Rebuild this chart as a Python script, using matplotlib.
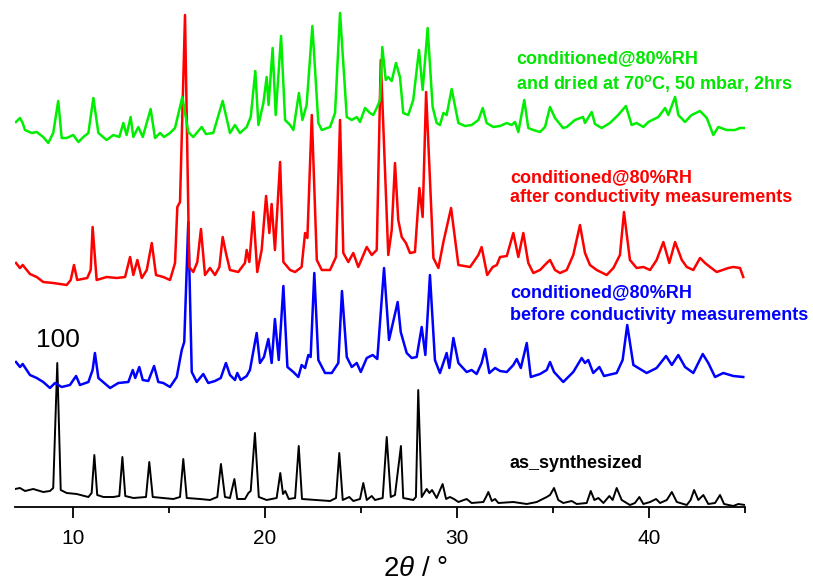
import matplotlib
matplotlib.use("Agg")
import matplotlib.pyplot as plt
from matplotlib.ticker import MultipleLocator

plt.rcParams['font.family'] = ['Liberation Sans', 'DejaVu Sans']
plt.rcParams['mathtext.fontset'] = 'custom'
plt.rcParams['mathtext.rm'] = 'Liberation Sans'
plt.rcParams['mathtext.it'] = 'Liberation Sans:italic'
plt.rcParams['mathtext.bf'] = 'Liberation Sans:bold'

# 2theta (deg) / intensity (offset, arbitrary units)
as_syn_x = [7.00, 7.26, 7.52, 7.95, 8.47, 8.82, 8.99, 9.20, 9.38, 9.69, 10.21, 10.82,
            10.99, 11.13, 11.28, 11.60, 12.12, 12.43, 12.59, 12.74, 13.16, 13.82, 13.99,
            14.17, 14.72, 15.24, 15.59, 15.76, 15.94, 16.63, 17.15, 17.53, 17.72, 17.93,
            18.19, 18.42, 18.57, 18.97, 19.15, 19.27, 19.49, 19.69, 20.10, 20.62, 20.81,
            20.95, 21.07, 21.25, 21.58, 21.77, 21.94, 22.71, 23.40, 23.71, 23.88, 24.06,
            24.40, 24.61, 24.96, 25.13, 25.31, 25.57, 25.74, 26.14, 26.35, 26.56, 26.78,
            27.09, 27.21, 27.73, 27.87, 27.99, 28.17, 28.43, 28.57, 28.71, 28.95, 29.26,
            29.44, 29.64, 29.85, 30.08, 30.51, 30.77, 31.38, 31.52, 31.64, 31.82, 31.99,
            32.16, 32.94, 33.64, 34.16, 34.68, 34.85, 35.06, 35.28, 35.54, 35.98, 36.24,
            36.76, 36.97, 37.16, 37.37, 37.63, 37.94, 38.11, 38.32, 38.58, 39.01, 39.27,
            39.50, 39.71, 40.06, 40.37, 40.58, 40.93, 41.19, 41.45, 41.97, 42.17, 42.35,
            42.57, 42.83, 43.09, 43.44, 43.70, 43.91, 44.39, 44.65, 45.00]
as_syn_y = [18, 19, 16, 18, 15, 16, 19, 144, 17, 14, 13, 10,
            14, 52, 12, 10, 10, 11, 50, 11, 9, 10, 45,
            10, 9, 8, 10, 48, 9, 8, 7, 10, 43, 10,
            9, 28, 8, 8, 14, 16, 74, 10, 7, 9, 34,
            13, 16, 8, 9, 61, 8, 7, 6, 9, 54, 7,
            10, 6, 8, 24, 7, 11, 7, 9, 70, 10, 12,
            61, 9, 7, 10, 117, 10, 18, 14, 17, 9, 23,
            8, 10, 8, 5, 8, 4, 5, 10, 15, 6, 8,
            4, 5, 3, 5, 10, 12, 19, 7, 4, 6, 3,
            4, 16, 7, 9, 4, 11, 7, 19, 7, 2, 4,
            10, 3, 5, 8, 4, 7, 15, 5, 2, 7, 17,
            7, 12, 3, 4, 12, 3, 1, 3, 2]

before_x = [7.05, 7.26, 7.40, 7.78, 8.13, 8.47, 8.82, 9.08, 9.43, 9.86, 10.18, 10.38,
            10.82, 11.04, 11.16, 11.34, 11.77, 11.95, 12.38, 12.90, 13.13, 13.26, 13.47,
            13.65, 13.94, 14.24, 14.46, 14.72, 15.07, 15.42, 15.68, 15.81, 16.02, 16.20,
            16.46, 16.80, 17.06, 17.41, 17.71, 17.98, 18.19, 18.45, 18.57, 18.75, 19.06,
            19.23, 19.58, 19.75, 19.96, 20.19, 20.36, 20.53, 20.73, 20.97, 21.18, 21.49,
            21.75, 21.92, 22.10, 22.27, 22.39, 22.58, 22.79, 23.14, 23.49, 23.83, 24.02,
            24.27, 24.53, 24.79, 25.00, 25.31, 25.62, 25.86, 26.21, 26.47, 26.92, 27.08,
            27.39, 27.65, 27.91, 28.17, 28.36, 28.60, 28.86, 29.12, 29.47, 29.61, 29.82,
            30.08, 30.51, 30.77, 31.03, 31.29, 31.47, 31.69, 31.99, 32.25, 32.60, 32.94,
            33.12, 33.33, 33.64, 33.85, 34.33, 34.68, 34.85, 35.06, 35.54, 36.06, 36.50,
            36.67, 36.84, 37.10, 37.42, 37.66, 38.32, 38.63, 38.87, 39.19, 39.54, 39.88,
            40.40, 40.89, 41.19, 41.53, 41.88, 42.31, 42.80, 43.09, 43.44, 43.87, 44.39,
            44.91]
before_y = [145, 140, 143, 132, 129, 125, 119, 124, 120, 122, 131, 122,
            125, 137, 154, 129, 122, 119, 124, 125, 137, 129, 140,
            127, 126, 141, 125, 124, 120, 130, 157, 165, 285, 135,
            125, 133, 124, 126, 129, 144, 132, 127, 134, 127, 131,
            137, 174, 144, 150, 168, 144, 188, 147, 221, 140, 135,
            130, 142, 139, 152, 150, 234, 147, 134, 134, 144, 216,
            150, 140, 144, 135, 149, 152, 148, 239, 167, 205, 175,
            154, 149, 150, 180, 152, 232, 147, 134, 154, 139, 169,
            144, 135, 137, 133, 144, 158, 134, 139, 136, 135, 142,
            148, 139, 164, 130, 133, 137, 145, 135, 125, 135, 149,
            144, 147, 134, 140, 131, 134, 147, 182, 142, 138, 134,
            139, 151, 142, 152, 140, 134, 153, 144, 130, 134, 131,
            130]

after_x = [7.05, 7.26, 7.40, 7.78, 8.13, 8.47, 8.99, 9.69, 9.90, 10.07, 10.24, 10.76,
           10.94, 11.04, 11.25, 11.77, 12.29, 12.73, 12.99, 13.16, 13.37, 13.60, 13.86,
           14.12, 14.34, 14.72, 15.07, 15.33, 15.45, 15.59, 15.85, 16.07, 16.28, 16.49,
           16.68, 16.89, 17.15, 17.41, 17.64, 17.81, 17.98, 18.19, 18.62, 18.97, 19.06,
           19.20, 19.41, 19.61, 19.84, 20.07, 20.24, 20.36, 20.53, 20.80, 20.97, 21.32,
           21.58, 21.92, 22.10, 22.22, 22.45, 22.71, 22.97, 23.40, 23.71, 23.92, 24.09,
           24.35, 24.61, 24.87, 25.31, 25.57, 25.83, 26.04, 26.43, 26.61, 26.78, 26.95,
           27.13, 27.35, 27.56, 27.82, 28.05, 28.22, 28.40, 28.78, 29.04, 29.30, 29.70,
           30.08, 30.69, 31.12, 31.29, 31.58, 31.87, 32.08, 32.25, 32.60, 32.94, 33.20,
           33.46, 33.72, 33.98, 34.33, 34.68, 34.85, 35.11, 35.37, 35.72, 36.06, 36.41,
           36.67, 36.93, 37.28, 37.80, 38.15, 38.49, 38.70, 39.01, 39.36, 39.71, 40.06,
           40.40, 40.75, 41.06, 41.36, 41.71, 41.97, 42.31, 42.66, 42.92, 43.18, 43.53,
           44.13, 44.39, 44.74, 44.91]
after_y = [244, 239, 242, 233, 230, 225, 224, 222, 227, 242, 227, 229,
           237, 280, 227, 230, 229, 230, 250, 232, 247, 229, 237,
           264, 232, 230, 227, 244, 300, 305, 492, 240, 235, 245,
           278, 232, 239, 232, 240, 270, 254, 237, 235, 244, 257,
           245, 295, 235, 257, 311, 274, 303, 257, 345, 245, 237,
           235, 240, 274, 269, 392, 247, 237, 237, 250, 387, 254,
           245, 254, 240, 260, 252, 257, 447, 252, 277, 344, 287,
           270, 264, 254, 255, 319, 290, 415, 249, 239, 265, 299,
           242, 240, 252, 260, 232, 240, 242, 250, 251, 274, 250,
           274, 244, 234, 237, 244, 247, 237, 234, 237, 252, 282,
           254, 242, 237, 232, 239, 252, 295, 247, 239, 240, 237,
           247, 265, 244, 265, 247, 240, 237, 249, 244, 240, 235,
           239, 240, 239, 230]

dried_x = [7.05, 7.26, 7.40, 7.52, 7.87, 8.13, 8.47, 8.73, 8.99, 9.25, 9.43, 9.69,
           10.03, 10.30, 10.56, 10.82, 11.08, 11.34, 11.77, 12.12, 12.43, 12.64, 12.81,
           13.02, 13.16, 13.42, 13.65, 14.06, 14.29, 14.55, 14.76, 15.07, 15.33, 15.59,
           15.71, 16.02, 16.28, 16.72, 16.94, 17.32, 17.81, 18.19, 18.45, 18.71, 19.06,
           19.27, 19.51, 19.67, 19.93, 20.10, 20.20, 20.41, 20.57, 20.85, 21.06, 21.32,
           21.49, 21.78, 21.96, 22.18, 22.48, 22.79, 22.97, 23.40, 23.66, 23.92, 24.27,
           24.53, 24.79, 24.96, 25.22, 25.48, 25.65, 25.83, 26.00, 26.12, 26.30, 26.43,
           26.61, 26.83, 27.04, 27.21, 27.47, 27.73, 28.03, 28.22, 28.48, 28.74, 28.95,
           29.12, 29.30, 29.47, 29.73, 30.08, 30.43, 30.77, 31.12, 31.35, 31.55, 31.90,
           32.25, 32.60, 32.85, 33.03, 33.20, 33.51, 33.72, 33.98, 34.33, 34.59, 34.85,
           35.11, 35.53, 35.72, 36.15, 36.57, 36.67, 37.02, 37.19, 37.54, 37.97, 38.40,
           38.80, 39.10, 39.36, 39.71, 39.97, 40.49, 40.84, 41.01, 41.36, 41.53, 41.88,
           42.22, 42.66, 43.01, 43.35, 43.61, 44.05, 44.48, 44.74, 45.00]
dried_y = [385, 389, 384, 377, 374, 375, 370, 364, 374, 406, 369, 369,
           372, 365, 370, 374, 409, 374, 367, 372, 370, 384, 372,
           390, 370, 380, 370, 398, 369, 374, 370, 374, 379, 400,
           410, 375, 370, 380, 373, 374, 406, 374, 382, 374, 380,
           390, 436, 382, 404, 430, 402, 459, 392, 471, 387, 382,
           377, 414, 387, 402, 481, 384, 377, 380, 394, 494, 390,
           387, 390, 385, 399, 394, 392, 399, 407, 460, 427, 430,
           426, 444, 430, 394, 392, 407, 457, 417, 479, 400, 384,
           382, 394, 392, 418, 384, 381, 382, 387, 399, 384, 380,
           381, 384, 382, 385, 375, 407, 379, 377, 375, 380, 400,
           389, 379, 380, 387, 390, 384, 395, 383, 379, 384, 392,
           401, 382, 384, 380, 385, 390, 399, 392, 410, 392, 385,
           392, 396, 389, 372, 380, 377, 377, 379, 379]

fig = plt.figure(figsize=(8.13, 5.82), dpi=100)
ax = fig.add_axes([15 / 813, 75 / 582, 730 / 813, 502 / 582])

ax.plot(as_syn_x, as_syn_y, color="black", lw=1.4)
ax.plot(before_x, before_y, color="#0000ff", lw=1.8)
ax.plot(after_x, after_y, color="#ff0000", lw=1.8)
ax.plot(dried_x, dried_y, color="#00ee00", lw=1.8)

ax.set_xlim(7, 45)
ax.set_ylim(0, 502)
for s in ["left", "right", "top"]:
    ax.spines[s].set_visible(False)
ax.spines["bottom"].set_linewidth(1.3)
ax.set_yticks([])
ax.xaxis.set_major_locator(MultipleLocator(10))
ax.xaxis.set_minor_locator(MultipleLocator(5))
ax.tick_params(axis="x", which="major", direction="out", length=8, width=1.3,
               labelsize=15, pad=8)
ax.tick_params(axis="x", which="minor", direction="out", length=4.5, width=1.3)
ax.set_xlabel(r"2$\theta$ / °", fontsize=20)
ax.xaxis.set_label_coords(0.548, -0.098)
ax.patch.set_visible(False)

bold = dict(fontsize=13, fontweight="bold", ha="left", va="center")
ax.text(33.08, 448, "conditioned@80%RH", color="#00e600", **bold)
ax.text(33.08, 424, r"and dried at 70$^{\mathbf{o}}$C, 50 mbar, 2hrs", color="#00e600", **bold)
ax.text(32.77, 329, "conditioned@80%RH", color="#ff0000", **bold)
ax.text(32.77, 309, "after conductivity measurements", color="#ff0000", **bold)
ax.text(32.77, 214, "conditioned@80%RH", color="#0000ff", **bold)
ax.text(32.77, 192, "before conductivity measurements", color="#0000ff", **bold)
ax.text(32.72, 44, "as_synthesized", color="black", **bold)
ax.text(9.25, 167, "100", fontsize=19, ha="center", va="center", color="black")

fig.savefig("out.png", dpi=100)
